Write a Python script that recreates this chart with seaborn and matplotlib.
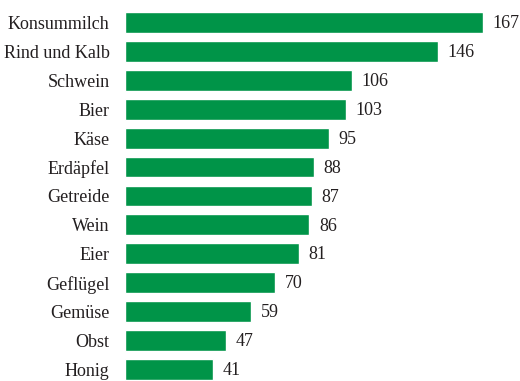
import matplotlib
matplotlib.use("Agg")
import matplotlib.pyplot as plt
import seaborn as sns
import pandas as pd

categories = ["Konsummilch", "Rind und Kalb", "Schwein", "Bier", "Käse", "Erdäpfel",
              "Getreide", "Wein", "Eier", "Geflügel", "Gemüse", "Obst", "Honig"]
values = [167, 146, 106, 103, 95, 88, 87, 86, 81, 70, 59, 47, 41]

df = pd.DataFrame({"cat": categories, "val": values})

sns.set_theme(style="white")
plt.rcParams["font.family"] = ["Liberation Serif", "DejaVu Serif"]

W, H = 520, 381
fig = plt.figure(figsize=(W / 100, H / 100), dpi=100)
left, right = 125, 483
top, bottom = 8, 381
ax = fig.add_axes([left / W, 1 - bottom / H, (right - left) / W, (bottom - top) / H])

sns.barplot(data=df, x="val", y="cat", color="#009448", saturation=1, width=0.72,
            ax=ax, orient="h")
ax.set_xlim(0, 167)
ax.set_ylim(12.4, -0.5)
for s in ax.spines.values():
    s.set_visible(False)
ax.set_xticks([])
ax.set_xlabel("")
ax.set_ylabel("")
ax.tick_params(axis="y", length=0, pad=11, labelsize=13, labelcolor="#231f20")
for i, v in enumerate(values):
    ax.text(v + 4.5, i + 0.04, str(v), va="center", ha="left", fontsize=13,
            color="#231f20", clip_on=False)

fig.savefig("out.png", dpi=100)
